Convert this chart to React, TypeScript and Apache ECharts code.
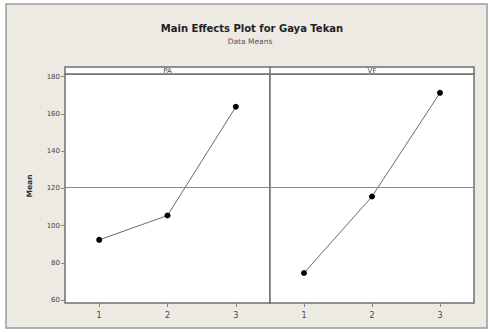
import React, { useEffect, useRef } from "react";
import * as echarts from "echarts";

const levels = ["1", "2", "3"];
const paMeans = [92.3, 105.4, 163.8];
const vfMeans = [74.5, 115.6, 171.3];
const grandMean = 120.5;
const yTicks = [60, 80, 100, 120, 140, 160, 180];
const panelNames = ["PA", "VF"];
const titleText = "Main Effects Plot for Gaya Tekan";
const subtitleText = "Data Means";
const yName = "Mean";

const FONT = "DejaVu Sans";

export default function App() {
  const ref = useRef<HTMLDivElement>(null);
  useEffect(() => {
    if (!ref.current) return;
    const chart = echarts.init(ref.current, null, { renderer: "svg" });
    const grids = [
      { left: 65, top: 74, width: 205, height: 229 },
      { left: 270, top: 74, width: 204, height: 229 },
    ];
    const series = [paMeans, vfMeans].map((d, i) => ({
      type: "line",
      xAxisIndex: i,
      yAxisIndex: i,
      data: d,
      symbol: "circle",
      symbolSize: 6,
      lineStyle: { color: "#6a6a6a", width: 1 },
      itemStyle: { color: "#000" },
      markLine: {
        silent: true,
        symbol: "none",
        label: { show: false },
        lineStyle: { color: "#8a8a8a", width: 1, type: "solid" },
        data: [{ yAxis: grandMean }],
      },
    }));
    chart.setOption({
      animation: false,
      backgroundColor: "#ffffff",
      grid: grids.map((g) => ({
        ...g,
        show: true,
        backgroundColor: "#ffffff",
        borderColor: "#6f6f6f",
        borderWidth: 1.5,
        containLabel: false,
      })),
      xAxis: grids.map((_, i) => ({
        type: "category",
        gridIndex: i,
        data: levels,
        boundaryGap: true,
        axisLine: { show: false },
        axisTick: { show: true, alignWithLabel: true, length: 4, lineStyle: { color: "#888" } },
        axisLabel: { fontSize: 8, color: "#444", margin: 8, fontFamily: FONT },
        splitLine: { show: false },
      })),
      yAxis: grids.map((_, i) => ({
        type: "value",
        gridIndex: i,
        min: 58.4,
        max: 181.4,
        axisLine: { show: false },
        axisTick: {
          show: i === 0,
          length: 4,
          customValues: yTicks,
          lineStyle: { color: "#888" },
        },
        axisLabel: {
          show: i === 0,
          customValues: yTicks,
          fontSize: 7,
          color: "#444",
          margin: 5,
          fontFamily: FONT,
        },
        splitLine: { show: false },
      })),
      series,
      graphic: [
        {
          type: "rect",
          z: -10,
          shape: { x: 6, y: 4, width: 481, height: 324 },
          style: { fill: "#EDEAE4", stroke: "#9a9a9a", lineWidth: 1.5 },
        },
        {
          type: "rect",
          z: 10,
          shape: { x: 65, y: 67, width: 409, height: 7 },
          style: { fill: "#ffffff", stroke: "#6f6f6f", lineWidth: 1.5 },
        },
        {
          type: "line",
          z: 10,
          shape: { x1: 270, y1: 67, x2: 270, y2: 74 },
          style: { stroke: "#6f6f6f", lineWidth: 1.5 },
        },
        ...panelNames.map((n, i) => ({
          type: "text",
          z: 11,
          x: i === 0 ? 167.5 : 372,
          y: 70.5,
          style: {
            text: n,
            fill: "#444",
            fontSize: 7,
            fontFamily: FONT,
            textAlign: "center",
            textVerticalAlign: "middle",
          },
        })),
        {
          type: "text",
          x: 252,
          y: 28,
          style: {
            text: titleText,
            fill: "#222",
            fontSize: 10,
            fontWeight: "bold",
            fontFamily: FONT,
            textAlign: "center",
            textVerticalAlign: "middle",
          },
        },
        {
          type: "text",
          x: 250,
          y: 41,
          style: {
            text: subtitleText,
            fill: "#555",
            fontSize: 7.5,
            fontFamily: FONT,
            textAlign: "center",
            textVerticalAlign: "middle",
          },
        },
        {
          type: "text",
          x: 29,
          y: 186,
          rotation: Math.PI / 2,
          style: {
            text: yName,
            fill: "#333",
            fontSize: 7.5,
            fontWeight: "bold",
            fontFamily: FONT,
            textAlign: "center",
            textVerticalAlign: "middle",
          },
        },
      ],
    });
    return () => chart.dispose();
  }, []);
  return (
    <div
      ref={ref}
      style={{ position: "fixed", left: 0, top: 0, width: 493, height: 332 }}
    />
  );
}
